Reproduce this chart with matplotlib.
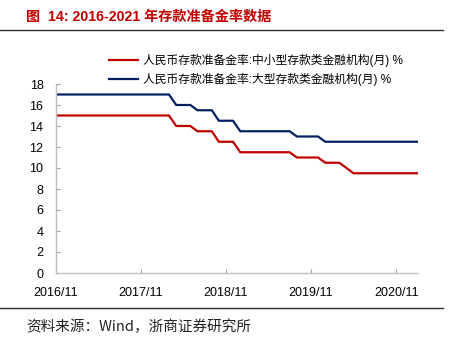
import numpy as np
import pandas as pd
import matplotlib.pyplot as plt

plt.rcParams['font.family'] = ['Liberation Sans', 'Noto Sans CJK SC', 'DejaVu Sans']

# monthly data, 2016/11 - 2021/02
months = pd.date_range('2016-11-01', periods=52, freq='MS')
small_mid = [15] * 17 + [14] * 3 + [13.5] * 3 + [12.5] * 3 + [11.5] * 8 + [11] * 4 + [10.5] * 3 + [10] + [9.5] * 10
large = [17] * 17 + [16] * 3 + [15.5] * 3 + [14.5] * 3 + [13.5] * 8 + [13] * 4 + [12.5] * 14
series_labels = ['人民币存款准备金率:中小型存款类金融机构(月) %',
                 '人民币存款准备金率:大型存款类金融机构(月) %']
tick_dates = pd.to_datetime(['2016-11-01', '2017-11-01', '2018-11-01', '2019-11-01', '2020-11-01'])
tick_labels = ['2016/11', '2017/11', '2018/11', '2019/11', '2020/11']

fig = plt.figure(figsize=(4.53, 3.38), dpi=100)
ax = fig.add_axes([56 / 453, 1 - 273 / 338, 362 / 453, 189 / 338])

l1, = ax.plot(months, small_mid, color='#C00000', lw=1.6)
l2, = ax.plot(months, large, color='#002060', lw=1.6)

ax.set_ylim(0, 18)
ax.set_yticks(np.arange(0, 19, 2))
ax.set_xlim(months[0], months[-1] + pd.Timedelta(days=1))
ax.set_xticks(tick_dates)
ax.set_xticklabels(tick_labels)
ax.tick_params(direction='in', length=3, color='#A0A0A0', labelsize=9)
ax.tick_params(axis='x', pad=10)
ax.tick_params(axis='y', pad=9)

for s in ['top', 'right']:
    ax.spines[s].set_visible(False)
for s in ['left', 'bottom']:
    ax.spines[s].set_color('#BFBFBF')
    ax.spines[s].set_linewidth(1.0)

# legend above the plot area
fig.legend([l1, l2], series_labels, loc='upper left', bbox_to_anchor=(98 / 453, 1 - 43 / 338),
           frameon=False, handlelength=2.5, handletextpad=0.4, labelspacing=0.55,
           prop={'family': ['Liberation Sans', 'Noto Sans CJK SC'], 'size': 8.5})

# title (split so the leading CJK glyph is placed exactly)
fig.text(26 / 453, 1 - 17 / 338, '图', color='#C00000', fontsize=10.2, fontweight='bold',
         va='center', ha='left', family=['Noto Sans CJK SC'])
fig.text(48 / 453, 1 - 17 / 338, '14: 2016-2021 年存款准备金率数据', color='#C00000',
         fontsize=10.2, fontweight='bold', va='center', ha='left')
fig.add_artist(plt.Line2D([0, 443 / 453], [1 - 30 / 338] * 2, color='#303030', lw=1.0))
fig.add_artist(plt.Line2D([0, 443 / 453], [1 - 308 / 338] * 2, color='#303030', lw=1.0))
fig.text(26 / 453, 1 - 327 / 338, '资料来源：Wind，浙商证券研究所', color='#222222',
         fontsize=10.5, va='center', ha='left', family=['Noto Sans CJK SC', 'DejaVu Sans'])

fig.savefig('out.png', dpi=100)
